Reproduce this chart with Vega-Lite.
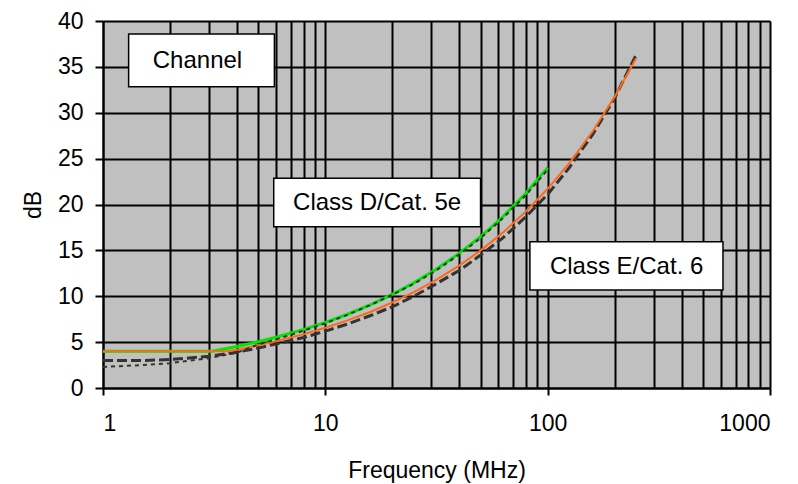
{
  "$schema": "https://vega.github.io/schema/vega-lite/v6.json",
  "width": 667,
  "height": 367,
  "autosize": {"type": "none"},
  "padding": {"left": 103, "top": 21, "right": 28, "bottom": 96},
  "background": "white",
  "config": {
    "view": {"fill": "#c0c0c0", "stroke": null},
    "font": "Liberation Sans",
    "axis": {
      "gridColor": "black", "gridWidth": 2, "gridOpacity": 1,
      "domainColor": "black", "domainWidth": 2,
      "tickColor": "black", "tickWidth": 2,
      "labelFont": "Liberation Sans", "labelFontSize": 23, "labelColor": "black",
      "titleFont": "Liberation Sans", "titleFontSize": 23, "titleFontWeight": "normal", "titleColor": "black"
    }
  },
  "datasets": {
    "curves": [
      {"series": "D", "f": 1, "db": 4.0}, {"series": "D", "f": 2, "db": 4.0}, {"series": "D", "f": 3.1, "db": 4.0},
      {"series": "D", "f": 4, "db": 4.53}, {"series": "D", "f": 5, "db": 5.05}, {"series": "D", "f": 6, "db": 5.53},
      {"series": "D", "f": 8, "db": 6.39}, {"series": "D", "f": 10, "db": 7.15}, {"series": "D", "f": 12.5, "db": 8.01},
      {"series": "D", "f": 16, "db": 9.09}, {"series": "D", "f": 20, "db": 10.2}, {"series": "D", "f": 25, "db": 11.46},
      {"series": "D", "f": 31.25, "db": 12.88}, {"series": "D", "f": 40, "db": 14.67}, {"series": "D", "f": 50, "db": 16.51},
      {"series": "D", "f": 62.5, "db": 18.61}, {"series": "D", "f": 80, "db": 21.26}, {"series": "D", "f": 100, "db": 24.02},

      {"series": "E", "f": 1, "db": 4.0}, {"series": "E", "f": 2, "db": 4.0}, {"series": "E", "f": 3.6, "db": 4.0},
      {"series": "E", "f": 4, "db": 4.18}, {"series": "E", "f": 5, "db": 4.66}, {"series": "E", "f": 6, "db": 5.09},
      {"series": "E", "f": 8, "db": 5.87}, {"series": "E", "f": 10, "db": 6.56}, {"series": "E", "f": 12.5, "db": 7.34},
      {"series": "E", "f": 16, "db": 8.31}, {"series": "E", "f": 20, "db": 9.32}, {"series": "E", "f": 25, "db": 10.45},
      {"series": "E", "f": 31.25, "db": 11.73}, {"series": "E", "f": 40, "db": 13.34}, {"series": "E", "f": 50, "db": 15.0},
      {"series": "E", "f": 62.5, "db": 16.88}, {"series": "E", "f": 80, "db": 19.26}, {"series": "E", "f": 100, "db": 21.71},
      {"series": "E", "f": 125, "db": 24.5}, {"series": "E", "f": 160, "db": 28.04}, {"series": "E", "f": 200, "db": 31.73},
      {"series": "E", "f": 250, "db": 35.93},

      {"series": "M6", "f": 1, "db": 3.0}, {"series": "M6", "f": 1.5, "db": 3.0}, {"series": "M6", "f": 2, "db": 3.1},
      {"series": "M6", "f": 3, "db": 3.45}, {"series": "M6", "f": 4, "db": 3.9}, {"series": "M6", "f": 5, "db": 4.35},
      {"series": "M6", "f": 6, "db": 4.8}, {"series": "M6", "f": 8, "db": 5.5}, {"series": "M6", "f": 10, "db": 6.2},
      {"series": "M6", "f": 12.5, "db": 6.95}, {"series": "M6", "f": 16, "db": 7.9}, {"series": "M6", "f": 20, "db": 8.85},
      {"series": "M6", "f": 25, "db": 10.0}, {"series": "M6", "f": 31.25, "db": 11.3}, {"series": "M6", "f": 40, "db": 12.8},
      {"series": "M6", "f": 50, "db": 14.5}, {"series": "M6", "f": 62.5, "db": 16.3}, {"series": "M6", "f": 80, "db": 18.7},
      {"series": "M6", "f": 100, "db": 21.1}, {"series": "M6", "f": 125, "db": 24.0}, {"series": "M6", "f": 160, "db": 27.7},
      {"series": "M6", "f": 200, "db": 31.6}, {"series": "M6", "f": 250, "db": 36.3},

      {"series": "M5", "f": 1, "db": 2.3}, {"series": "M5", "f": 1.5, "db": 2.5}, {"series": "M5", "f": 2, "db": 2.7},
      {"series": "M5", "f": 3, "db": 3.25}, {"series": "M5", "f": 4, "db": 3.85}, {"series": "M5", "f": 5, "db": 4.75},
      {"series": "M5", "f": 6, "db": 5.3}, {"series": "M5", "f": 8, "db": 6.25}, {"series": "M5", "f": 10, "db": 7.05},
      {"series": "M5", "f": 12.5, "db": 7.95}, {"series": "M5", "f": 16, "db": 9.05}, {"series": "M5", "f": 20, "db": 10.15},
      {"series": "M5", "f": 25, "db": 11.35}, {"series": "M5", "f": 31.25, "db": 12.75}, {"series": "M5", "f": 40, "db": 14.55},
      {"series": "M5", "f": 50, "db": 16.35}, {"series": "M5", "f": 62.5, "db": 18.45}, {"series": "M5", "f": 80, "db": 21.05},
      {"series": "M5", "f": 100, "db": 23.8}
    ],
    "boxes": [
      {"label": "Channel", "x1": 1.304, "x2": 5.9, "y1": 38.58, "y2": 32.84, "tx": 2.66, "ty": 35.64},
      {"label": "Class D/Cat. 5e", "x1": 5.86, "x2": 49.9, "y1": 22.86, "y2": 17.58, "tx": 17.1, "ty": 20.16},
      {"label": "Class E/Cat. 6", "x1": 83.2, "x2": 614.5, "y1": 15.95, "y2": 10.68, "tx": 226.5, "ty": 13.22}
    ]
  },
  "encoding": {
    "x": {
      "field": "f", "type": "quantitative",
      "scale": {"type": "log", "domain": [1, 1000], "nice": false},
      "axis": {
        "title": "Frequency (MHz)",
        "values": [1,2,3,4,5,6,7,8,9,10,20,30,40,50,60,70,80,90,100,200,300,400,500,600,700,800,900,1000],
        "grid": true,
        "tickSize": 7,
        "labelPadding": 17,
        "titlePadding": 24,
        "labelExpr": "(datum.value==1||datum.value==10||datum.value==100||datum.value==1000) ? format(datum.value,'d') : ''",
        "tickOpacity": {"condition": {"test": "datum.value==1||datum.value==10||datum.value==100||datum.value==1000", "value": 1}, "value": 0}
      }
    },
    "y": {
      "field": "db", "type": "quantitative",
      "scale": {"domain": [0, 40], "nice": false},
      "axis": {
        "title": "dB",
        "values": [0,5,10,15,20,25,30,35,40],
        "grid": true,
        "tickSize": 8,
        "labelPadding": 12,
        "titlePadding": 12
      }
    }
  },
  "layer": [
    {
      "data": {"name": "curves"},
      "transform": [{"filter": "datum.series == 'M6'"}],
      "mark": {"type": "line", "color": "#333333", "strokeWidth": 3, "strokeDash": [10, 4]}
    },
    {
      "data": {"name": "curves"},
      "transform": [{"filter": "datum.series == 'D'"}],
      "mark": {"type": "line", "color": "#00e600", "strokeWidth": 3}
    },
    {
      "data": {"name": "curves"},
      "transform": [{"filter": "datum.series == 'E'"}],
      "mark": {"type": "line", "color": "#ff6a1a", "strokeWidth": 2}
    },
    {
      "data": {"name": "curves"},
      "transform": [{"filter": "datum.series == 'M5'"}],
      "mark": {"type": "line", "color": "#333333", "strokeWidth": 2, "strokeDash": [4, 4]}
    },
    {
      "data": {"name": "boxes"},
      "mark": {"type": "rect", "fill": "white", "stroke": "black", "strokeWidth": 1.5},
      "encoding": {
        "x": {"field": "x1", "type": "quantitative"},
        "x2": {"field": "x2"},
        "y": {"field": "y1", "type": "quantitative"},
        "y2": {"field": "y2"}
      }
    },
    {
      "data": {"name": "boxes"},
      "mark": {"type": "text", "fontSize": 24, "font": "Liberation Sans", "color": "black", "align": "center", "baseline": "middle"},
      "encoding": {
        "x": {"field": "tx", "type": "quantitative"},
        "y": {"field": "ty", "type": "quantitative"},
        "text": {"field": "label"}
      }
    }
  ]
}
